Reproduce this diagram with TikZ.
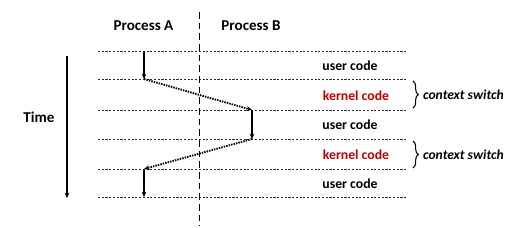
\documentclass[tikz,border=0pt]{standalone}
\usepackage{fontspec}
\setmainfont{Carlito}
\usepackage{tikz}
\usetikzlibrary{arrows.meta,positioning,calc,decorations.pathreplacing}
\definecolor{kernelRed}{RGB}{192,0,0}

\begin{document}
\begin{tikzpicture}[x=0.75pt,y=-0.75pt,
    rowline/.style={black!85,line width=0.6pt,dash pattern=on 1.6pt off 1.2pt},
    split/.style={black,line width=1.4pt,dash pattern=on 5pt off 3pt},
    runarrow/.style={-{Stealth[length=4pt,width=3.5pt]},line width=1pt},
    switcharrow/.style={-{Stealth[length=4pt,width=3.5pt]},line width=1.4pt,dash pattern=on 1.1pt off 0.8pt},
    head/.style={font=\bfseries\fontsize{11.3}{13}\selectfont},
    code/.style={font=\bfseries\fontsize{10.3}{12}\selectfont},
    note/.style={font=\bfseries\itshape\fontsize{10.2}{12}\selectfont}]
  \useasboundingbox (0,0) rectangle (529,228);
  % time rows
  \foreach \y [count=\i] in {51.5,79,110,139,169,197}{
    \draw[rowline] (98,\y) -- (407,\y);
    \coordinate (a\i) at (144,\y);
    \coordinate (b\i) at (252,\y);
  }
  \draw[split] (199.5,12) -- (199.5,226);
  \node[head] (procA) at (143.5,26) {Process A};
  \node[head] (procB) at (251,26) {Process B};
  \coordinate (t0) at (67,56);
  \coordinate (t1) at (67,198);
  \draw[runarrow] (t0) -- (t1);
  \node[head] (time) at (39,117) {Time};
  % labels of the slices
  \node[code] (u1) at (350,65.5) {user code};
  \node[code,text=kernelRed] (k1) at (356,95.5) {kernel code};
  \node[code] (u2) at (350,125) {user code};
  \node[code,text=kernelRed] (k2) at (356,154.5) {kernel code};
  \node[code] (u3) at (350,184) {user code};
  % execution
  \draw[runarrow] (a1) -- (a2);
  \draw[switcharrow] (a2) -- (b3);
  \draw[runarrow] (b3) -- (b4);
  \draw[switcharrow] (b4) -- (a5);
  \draw[runarrow] (a5) -- (a6);
  % context switches
  \draw[decorate,decoration={brace,amplitude=4pt},line width=0.8pt]
    (413,81) -- (413,108) coordinate[midway,xshift=4pt] (s1);
  \draw[decorate,decoration={brace,amplitude=4pt},line width=0.8pt]
    (413,141) -- (413,168) coordinate[midway,xshift=4pt] (s2);
  \node[note,anchor=west] (cs1) at (s1) {context switch};
  \node[note,anchor=west] (cs2) at (s2) {context switch};
\end{tikzpicture}
\end{document}
